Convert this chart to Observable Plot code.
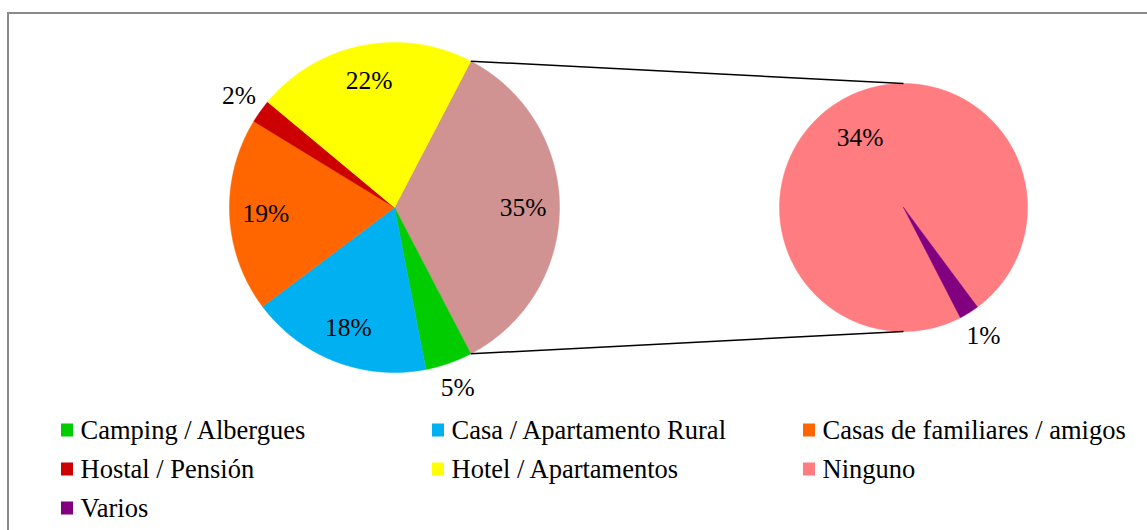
<!DOCTYPE html>
<html>
<head>
<meta charset="utf-8">
<script src="https://cdn.jsdelivr.net/npm/d3@7"></script>
<script src="https://cdn.jsdelivr.net/npm/@observablehq/plot@0.6"></script>
</head>
<body style="margin:0;background:#fff">
<div id="wrap" style="position:relative;width:1147px;height:530px;overflow:hidden">
  <div style="position:absolute;left:7px;top:12px;width:1150px;height:530px;border-top:2px solid #8a8a8a;border-left:2px solid #8a8a8a;box-sizing:border-box"></div>
  <div id="chart" style="position:absolute;left:0;top:0"></div>
</div>
<script>
// ---- data ----
const categories = ["Camping / Albergues", "Casa / Apartamento Rural", "Casas de familiares / amigos",
                    "Hostal / Pensión", "Hotel / Apartamentos", "Ninguno", "Varios"];
const values = [4.6, 17.8, 19.0, 2.3, 21.6, 33.8, 0.9];
const colors = ["#00CC00", "#00B0F0", "#FF6600", "#CC0000", "#FFFF00", "#FF7C80", "#800080"];
const mainCategories = ["Camping / Albergues", "Casa / Apartamento Rural", "Casas de familiares / amigos",
                        "Hostal / Pensión", "Hotel / Apartamentos"];
const secondaryCategories = ["Ninguno", "Varios"];
const otherName = "Otros";
const otherColor = "#D19391";

// ---- layout ----
const W = 1147, H = 530;
const C1 = {x: 394, y: 207, r: 165};
const C2 = {x: 903, y: 207, r: 124};
const secondStart = 152.7 * Math.PI / 180;
const deg = Math.PI / 180;

const valueOf = Object.fromEntries(categories.map((c, i) => [c, values[i]]));
const otherValue = d3.sum(secondaryCategories, c => valueOf[c]);
const total = d3.sum(values);

const mainData = [{cat: otherName, value: otherValue}].concat(mainCategories.map(c => ({cat: c, value: valueOf[c]})));
const secData = secondaryCategories.map(c => ({cat: c, value: valueOf[c]}));

const mainStart = Math.PI / 2 - Math.PI * otherValue / total;
const mainArcs = d3.pie().sort(null).value(d => d.value).startAngle(mainStart).endAngle(mainStart + 2 * Math.PI)(mainData);
const secArcs = d3.pie().sort(null).value(d => d.value).startAngle(secondStart).endAngle(secondStart + 2 * Math.PI)(secData);

const pt = (C, a, rr) => [C.x + rr * Math.sin(a), C.y - rr * Math.cos(a)];

function wedges(arcs, C) {
  const rows = [];
  for (const a of arcs) {
    const n = Math.max(2, Math.ceil((a.endAngle - a.startAngle) / (0.5 * deg)));
    rows.push({cat: a.data.cat, x: C.x, y: C.y});
    for (let i = 0; i <= n; i++) {
      const t = a.startAngle + (a.endAngle - a.startAngle) * i / n;
      const [x, y] = pt(C, t, C.r);
      rows.push({cat: a.data.cat, x, y});
    }
    rows.push({cat: a.data.cat, x: C.x, y: C.y});
  }
  return rows;
}
const wedgeRows = wedges(mainArcs, C1).concat(wedges(secArcs, C2));

function labels(arcs, C, inside, outside) {
  return arcs.map(a => {
    const share = a.data.value / total * 100;
    const mid = (a.startAngle + a.endAngle) / 2;
    const f = share < 6 ? outside : inside;
    const [x, y] = pt(C, mid, C.r * f);
    return {x, y, text: Math.round(share) + "%"};
  });
}
const labelRows = labels(mainArcs, C1, 0.78, 1.16).concat(labels(secArcs, C2, 0.66, 1.22));

// connector lines
const otherArc = mainArcs.find(a => a.data.cat === otherName);
const pA = pt(C1, otherArc.startAngle, C1.r), pB = pt(C1, otherArc.endAngle, C1.r);
const connectors = [
  {x1: pA[0], y1: pA[1], x2: C2.x, y2: C2.y - C2.r},
  {x1: pB[0], y1: pB[1], x2: C2.x, y2: C2.y + C2.r}
];

// legend
const colX = [61, 432, 803], rowY = [430, 469, 508], sw = 13;
const legendRows = categories.map((c, i) => {
  const col = i % 3, row = Math.floor(i / 3);
  return {cat: c, x1: colX[col], x2: colX[col] + sw - 1, y1: rowY[row] - sw / 2, y2: rowY[row] + sw / 2,
          tx: colX[col] + sw + 6, ty: rowY[row]};
});

const chart = Plot.plot({
  width: W, height: H, margin: 0,
  x: {domain: [0, W], range: [0, W], axis: null},
  y: {domain: [0, H], range: [0, H], axis: null},
  color: {domain: categories.concat([otherName]), range: colors.concat([otherColor])},
  style: {fontFamily: "Liberation Serif"},
  marks: [
    Plot.line(wedgeRows, {x: "x", y: "y", z: "cat", fill: "cat", stroke: "cat", strokeWidth: 0.5, curve: "linear"}),
    Plot.link(connectors, {x1: "x1", y1: "y1", x2: "x2", y2: "y2", stroke: "#000", strokeWidth: 1.5}),
    Plot.text(labelRows, {x: "x", y: "y", text: "text", fill: "#000", fontSize: 25.5, fontFamily: "Liberation Serif", textAnchor: "middle"}),
    Plot.rect(legendRows, {x1: "x1", x2: "x2", y1: "y1", y2: "y2", fill: "cat"}),
    Plot.text(legendRows, {x: "tx", y: "ty", text: "cat", fill: "#000", fontSize: 26.5, fontFamily: "Liberation Serif", textAnchor: "start"})
  ]
});
chart.style.background = "transparent";
document.getElementById("chart").appendChild(chart);
</script>
</body>
</html>
